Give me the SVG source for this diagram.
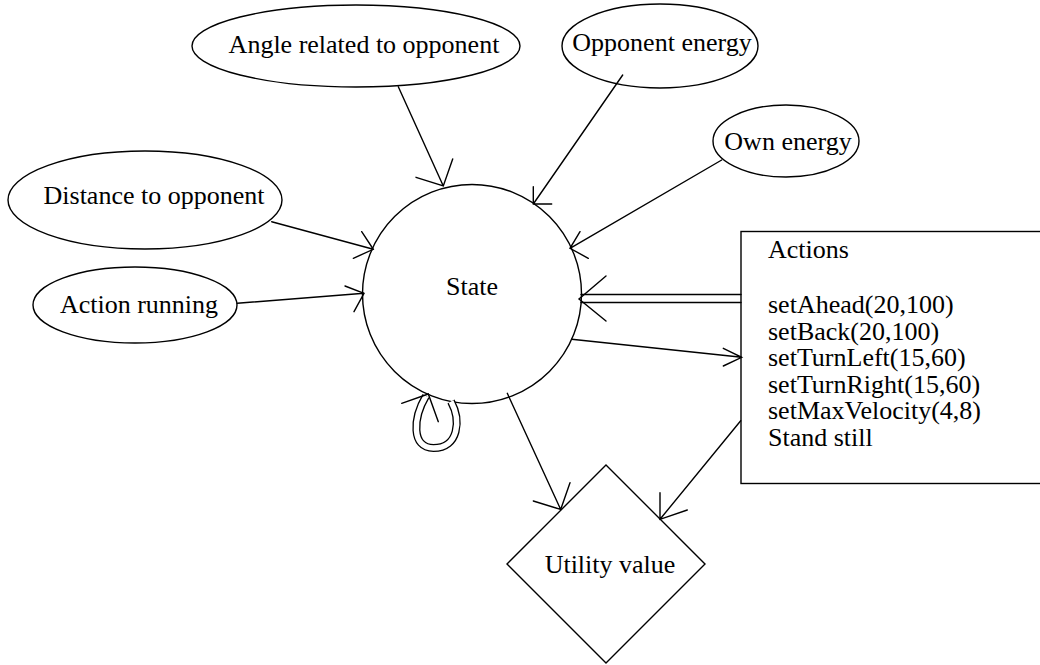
<svg xmlns="http://www.w3.org/2000/svg" width="1040" height="665" viewBox="0 0 1040 665">
  <style>
    .shape { fill: #ffffff; stroke: #000000; stroke-width: 1.4; }
    .edge { fill: none; stroke: #000000; stroke-width: 1.4; stroke-linecap: round; stroke-linejoin: miter; }
    .dbl-outer { fill: none; stroke: #000000; stroke-width: 8; }
    .dbl-inner { fill: none; stroke: #ffffff; stroke-width: 5.4; }
    text { font-family: "Liberation Serif", "Times New Roman", serif; font-size: 26px; fill: #000000; }
    .mid { text-anchor: middle; }
  </style>
  <rect x="0" y="0" width="1040" height="665" fill="#ffffff"/>

  <!-- nodes -->
  <g id="node-angle">
    <ellipse class="shape" cx="356" cy="46" rx="164" ry="41"/>
    <text class="mid" x="364" y="53">Angle related to opponent</text>
  </g>
  <g id="node-opponent-energy">
    <ellipse class="shape" cx="660" cy="46" rx="98" ry="42"/>
    <text class="mid" x="662" y="51">Opponent energy</text>
  </g>
  <g id="node-own-energy">
    <ellipse class="shape" cx="786" cy="141" rx="73" ry="36"/>
    <text class="mid" x="788" y="150">Own energy</text>
  </g>
  <g id="node-distance">
    <ellipse class="shape" cx="145" cy="200" rx="137" ry="49"/>
    <text class="mid" x="154" y="204">Distance to opponent</text>
  </g>
  <g id="node-action-running">
    <ellipse class="shape" cx="135" cy="305" rx="102" ry="38"/>
    <text class="mid" x="139" y="313">Action running</text>
  </g>
  <g id="node-state">
    <circle class="shape" cx="472" cy="294" r="109.5"/>
    <text class="mid" x="472" y="295">State</text>
  </g>
  <g id="node-actions">
    <rect class="shape" x="741" y="231.5" width="400" height="252"/>
    <text x="768" y="258">Actions</text>
    <text x="768" y="313">setAhead(20,100)</text>
    <text x="768" y="339.5">setBack(20,100)</text>
    <text x="768" y="366">setTurnLeft(15,60)</text>
    <text x="768" y="392.5">setTurnRight(15,60)</text>
    <text x="768" y="419">setMaxVelocity(4,8)</text>
    <text x="768" y="446">Stand still</text>
  </g>
  <g id="node-utility">
    <polygon class="shape" points="606,465 705,564 606,663 507,564"/>
    <text class="mid" x="610" y="573">Utility value</text>
  </g>

  <!-- connectors -->
  <g id="connectors">
    <path class="edge" d="M398.3,86.7 L443.3,186 M416,177.3 L443.3,186 L452.7,159"/>
    <path class="edge" d="M622.7,75 L533.3,204 M551.7,204 L533.3,204 L533.3,186.7"/>
    <path class="edge" d="M721.7,160 L570,248.3 M580,231.7 L570,248.3 L588.3,258.3"/>
    <path class="edge" d="M271.7,221.7 L373.3,249.3 M361.7,231.7 L373.3,249.3 L353.3,258.3"/>
    <path class="edge" d="M237.3,303.3 L364,293.3 M345,286 L364,293.3 L354,311.7"/>
    <!-- Actions back to State: double shaft -->
    <path class="edge" d="M581,294.5 L741,294.5 M581,302.5 L741,302.5"/>
    <path class="edge" d="M606,276 L579,299 L606,321"/>
    <path class="edge" d="M571.7,339.3 L741.7,357.3 M723.3,348.3 L741.7,357.3 L723.3,366"/>
    <path class="edge" d="M507.3,393.3 L560.7,509.5 M533.3,501 L560.7,509.5 L570,482.7"/>
    <path class="edge" d="M740.7,420.7 L660,519.3 M660,492.7 L660,519.3 L687.3,510"/>
    <!-- self loop on State: double line -->
    <path class="dbl-outer" d="M426,396 C413,418 411,448 433.5,448 C459,448 461,420 451,401.5"/>
    <path class="dbl-inner" d="M426,396 C413,418 411,448 433.5,448 C459,448 461,420 451,401.5"/>
    <path class="edge" d="M401.7,403.3 L428.3,394 L438.3,421.7"/>
  </g>
</svg>
